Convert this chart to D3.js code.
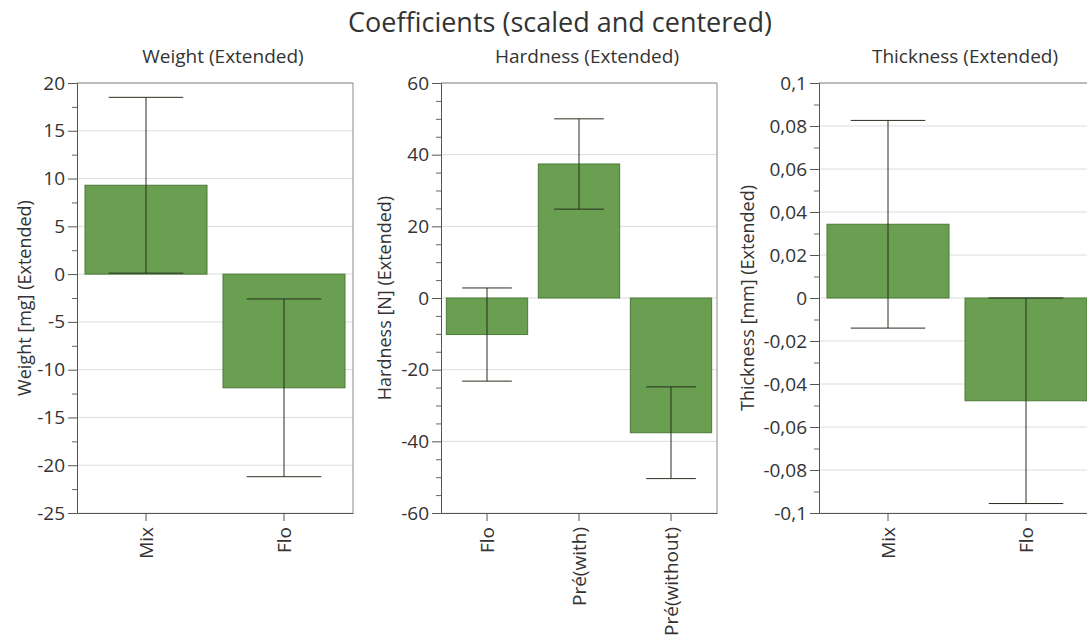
<!DOCTYPE html>
<html>
<head>
<meta charset="utf-8">
<script src="https://cdn.jsdelivr.net/npm/d3@7"></script>
<style>
  body { margin: 0; background: #fff; }
  svg { display: block; }
  text { font-family: "Open Sans", sans-serif; fill: #333; }
</style>
</head>
<body>
<svg id="chart" width="1087" height="642"></svg>
<script>
// Coefficient plots (scaled and centered) with confidence intervals
const weightTerms = ["Mix", "Flo"];
const weightCoef = [9.3, -11.9];
const weightErr = [9.2, 9.3];
const weightTicks = [-25, -20, -15, -10, -5, 0, 5, 10, 15, 20];
const weightMinor = [-22.5, -17.5, -12.5, -7.5, -2.5, 2.5, 7.5, 12.5, 17.5];

const hardnessTerms = ["Flo", "Pré(with)", "Pré(without)"];
const hardnessCoef = [-10.2, 37.4, -37.6];
const hardnessErr = [13.0, 12.6, 12.8];
const hardnessTicks = [-60, -40, -20, 0, 20, 40, 60];
const hardnessMinor = [-55, -50, -45, -35, -30, -25, -15, -10, -5, 5, 10, 15, 25, 30, 35, 45, 50, 55];

const thicknessTerms = ["Mix", "Flo"];
const thicknessCoef = [0.0343, -0.0478];
const thicknessErr = [0.0483, 0.0478];
const thicknessTicks = [-0.1, -0.08, -0.06, -0.04, -0.02, 0, 0.02, 0.04, 0.06, 0.08, 0.1];
const thicknessMinor = [-0.09, -0.07, -0.05, -0.03, -0.01, 0.01, 0.03, 0.05, 0.07, 0.09];

const panelTitles = ["Weight (Extended)", "Hardness (Extended)", "Thickness (Extended)"];
const axisTitles = ["Weight [mg] (Extended)", "Hardness [N] (Extended)", "Thickness [mm] (Extended)"];
const chartTitle = "Coefficients (scaled and centered)";

// plain hyphen for negatives, comma as decimal separator
const tickFmt = d => String(+d.toFixed(4)).replace(".", ",");

const panels = [
  { terms: weightTerms, coef: weightCoef, err: weightErr, ticks: weightTicks, minor: weightMinor,
    left: 77, right: 353, labelOffset: 52 },
  { terms: hardnessTerms, coef: hardnessCoef, err: hardnessErr, ticks: hardnessTicks, minor: hardnessMinor,
    left: 441, right: 717, labelOffset: 56 },
  { terms: thicknessTerms, coef: thicknessCoef, err: thicknessErr, ticks: thicknessTicks, minor: thicknessMinor,
    left: 819, right: 1095, labelOffset: 71 }
];

const plotTop = 83, plotBottom = 513;
const barFill = "#6a9e50", barStroke = "#4c7a38";
const svg = d3.select("#chart");

svg.append("text")
  .attr("x", 560).attr("y", 32)
  .attr("text-anchor", "middle")
  .style("font-size", "27px")
  .text(chartTitle);

panels.forEach((p, i) => {
  const y = d3.scaleLinear()
    .domain(d3.extent(p.ticks))
    .range([plotBottom, plotTop]);
  const x = d3.scaleBand()
    .domain(p.terms)
    .range([p.left, p.right])
    .paddingInner(0.116)
    .paddingOuter(0.058);
  const band = x.step();
  const g = svg.append("g");
  const rows = p.terms.map((t, k) => ({ term: t, v: p.coef[k], e: p.err[k] }));

  // gridlines at major ticks
  g.append("g").selectAll("line")
    .data(p.ticks)
    .join("line")
    .attr("x1", p.left).attr("x2", p.right)
    .attr("y1", d => y(d)).attr("y2", d => y(d))
    .attr("stroke", "#dcdcdc").attr("stroke-width", 1);

  // plot frame (top and right)
  g.append("path")
    .attr("d", `M${p.left},${plotTop}H${p.right}V${plotBottom}`)
    .attr("fill", "none").attr("stroke", "#8a8a8a").attr("stroke-width", 1);

  // bars
  g.append("g").selectAll("rect")
    .data(rows)
    .join("rect")
    .attr("x", d => x(d.term))
    .attr("width", x.bandwidth())
    .attr("y", d => y(Math.max(0, d.v)))
    .attr("height", d => Math.abs(y(d.v) - y(0)))
    .attr("fill", barFill)
    .attr("stroke", barStroke).attr("stroke-width", 1);

  // confidence intervals
  const capHalf = band * 0.27;
  const cx = d => x(d.term) + x.bandwidth() / 2;
  const eb = g.append("g").selectAll("g")
    .data(rows)
    .join("g")
    .attr("stroke", "#26301f").attr("stroke-width", 1);
  eb.append("line")
    .attr("x1", cx).attr("x2", cx)
    .attr("y1", d => y(d.v + d.e)).attr("y2", d => y(d.v - d.e));
  eb.append("line")
    .attr("x1", d => cx(d) - capHalf).attr("x2", d => cx(d) + capHalf)
    .attr("y1", d => y(d.v + d.e)).attr("y2", d => y(d.v + d.e));
  eb.append("line")
    .attr("x1", d => cx(d) - capHalf).attr("x2", d => cx(d) + capHalf)
    .attr("y1", d => y(d.v - d.e)).attr("y2", d => y(d.v - d.e));

  // y axis: minor then major ticks
  g.append("g")
    .attr("transform", `translate(${p.left},0)`)
    .call(d3.axisLeft(y).tickValues(p.minor).tickSize(5).tickFormat(""))
    .call(a => a.select(".domain").remove())
    .call(a => a.selectAll("line").attr("stroke", "#666"));
  const ya = g.append("g")
    .attr("transform", `translate(${p.left},0)`)
    .call(d3.axisLeft(y).tickValues(p.ticks).tickSize(9).tickPadding(3).tickFormat(tickFmt));
  ya.select(".domain").attr("stroke", "#555");
  ya.selectAll("line").attr("stroke", "#555");
  ya.selectAll("text").style("font-size", "19px").style("fill", "#333")
    .style("font-family", "'Open Sans', sans-serif");

  // x axis with vertical term labels
  const xa = g.append("g")
    .attr("transform", `translate(0,${plotBottom})`)
    .call(d3.axisBottom(x).tickSize(8).tickSizeOuter(0));
  xa.select(".domain").attr("stroke", "#555");
  xa.selectAll("line").attr("stroke", "#555");
  xa.selectAll("text")
    .attr("transform", "rotate(-90)")
    .attr("text-anchor", "end")
    .attr("x", -14).attr("y", 0).attr("dy", "0.35em")
    .style("font-size", "19px").style("fill", "#333")
    .style("font-family", "'Open Sans', sans-serif");

  // panel title
  g.append("text")
    .attr("x", (p.left + p.right) / 2 + 8).attr("y", 63)
    .attr("text-anchor", "middle")
    .style("font-size", "19px")
    .text(panelTitles[i]);

  // axis title
  g.append("text")
    .attr("transform", `translate(${p.left - p.labelOffset},${(plotTop + plotBottom) / 2}) rotate(-90)`)
    .attr("text-anchor", "middle").attr("dy", "0.35em")
    .style("font-size", "18px")
    .text(axisTitles[i]);
});
</script>
</body>
</html>
